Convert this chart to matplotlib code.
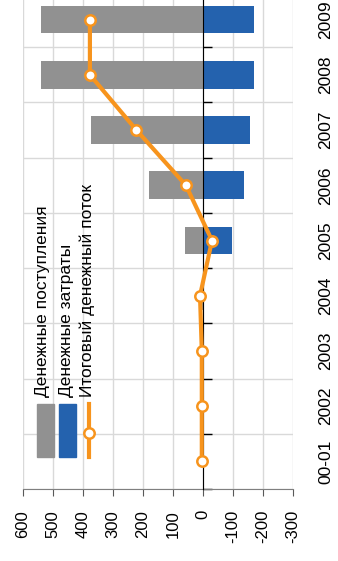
import matplotlib.pyplot as plt
import matplotlib.transforms as mtransforms
from matplotlib.patches import Rectangle
from matplotlib.lines import Line2D

plt.rcParams['font.family'] = ['Liberation Sans', 'DejaVu Sans']

years = ['00-01', '2002', '2003', '2004', '2005', '2006', '2007', '2008', '2009']
income = [0, 0, 0, 8, 60, 180, 373, 540, 540]            # денежные поступления
expenses = [0, 0, 0, 0, -95, -137, -157, -170, -170]     # денежные затраты
net = [4, 4, 4, 10, -30, 57, 222, 377, 377]              # итоговый поток
value_ticks = [600, 500, 400, 300, 200, 100, 0, -100, -200, -300]

grey = '#919191'
blue = '#2462ae'
orange = '#f7941d'

W, H = 338, 561
fig = plt.figure(figsize=(W / 100, H / 100), dpi=100)
ax = fig.add_axes([23 / W, 1 - 489 / H, 270 / W, 497 / H])

pos = list(range(len(years)))
ax.barh(pos, income, height=0.5, color=grey, zorder=2)
ax.barh(pos, expenses, height=0.5, color=blue, zorder=2)
ax.plot(net, pos, color=orange, lw=3, marker='o', ms=7.5, mfc='white',
        mec=orange, mew=1.8, zorder=4)

ax.set_xlim(600, -300)
ax.set_ylim(-0.5, 8.5)

# value axis (bottom)
ax.set_xticks(value_ticks)
ax.set_xticklabels([str(v) for v in value_ticks])
ax.tick_params(axis='x', direction='out', length=5, color='#595959',
               labelsize=12, labelrotation=90, pad=10)

# category axis: boundary ticks on the zero line, year labels on the right
ax.set_yticks([])
ax.set_yticks([p - 0.5 for p in pos] + [8.5], minor=True)
ax.tick_params(axis='y', which='minor', left=True, direction='in',
               length=6.5, width=1, color='black')
trans = mtransforms.blended_transform_factory(ax.transAxes, ax.transData)
for p, y in zip(pos, years):
    ax.text(1.093, p, y, transform=trans, rotation=90, ha='left', va='center',
            fontsize=12.5, clip_on=False)

ax.grid(axis='x', color='#d9d9d9', lw=1)
ax.grid(axis='y', which='minor', color='#d9d9d9', lw=1)
ax.set_axisbelow(True)

ax.spines['top'].set_visible(False)
ax.spines['right'].set_visible(False)
ax.spines['left'].set_position(('data', 0))
ax.spines['left'].set_color('black')
ax.spines['left'].set_zorder(3)
ax.spines['bottom'].set_color('#7f7f7f')

# legend
def fx(x):
    return x / W

def fy(y):
    return 1 - y / H

fig.add_artist(Rectangle((fx(37), fy(457)), 17 / W, 53 / H, color=grey,
                         transform=fig.transFigure))
fig.add_artist(Rectangle((fx(59), fy(457)), 17 / W, 53 / H, color=blue,
                         transform=fig.transFigure))
fig.add_artist(Line2D([fx(89), fx(89)], [fy(457), fy(404)], color=orange, lw=3,
                      transform=fig.transFigure))
fig.add_artist(Line2D([fx(89)], [fy(433)], color=orange, marker='o', ms=7.5,
                      mfc='white', mew=1.8, transform=fig.transFigure))

labels = ['Денежные поступления', 'Денежные затраты', 'Итоговый денежный поток']
for x, t in zip([43, 66, 87], labels):
    fig.text(fx(x), fy(397), t, rotation=90, ha='center', va='bottom',
             fontsize=12.5)

fig.savefig('out.png', dpi=100)
